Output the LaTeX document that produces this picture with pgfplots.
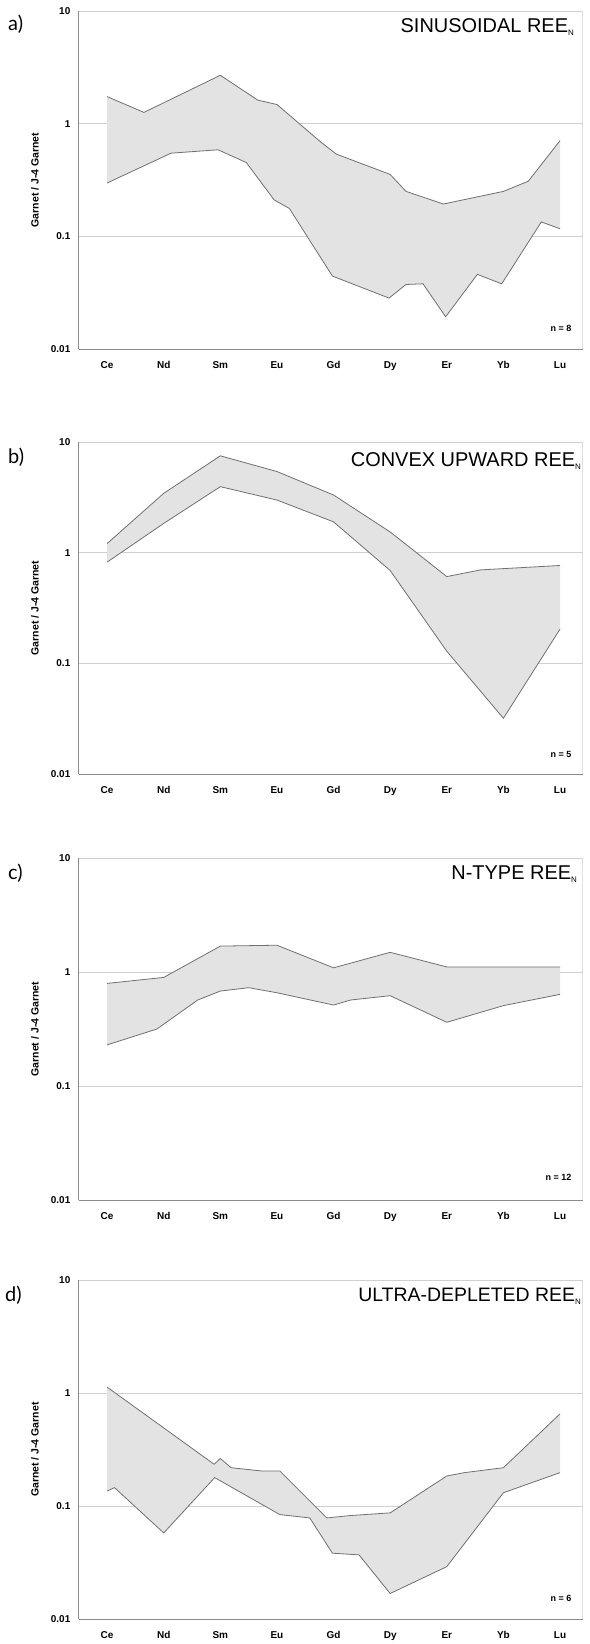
\documentclass[border=0pt]{standalone}
\usepackage{fontspec}
\setmainfont{Liberation Sans}
\newfontfamily\panelfont{Lato}
\usepackage{pgfplots}
\usepackage{pgfplotstable}
\pgfplotsset{compat=1.18}

\definecolor{envfill}{HTML}{E3E3E3}
\definecolor{envline}{HTML}{707070}
\definecolor{gridc}{HTML}{D0D0D0}
\definecolor{axisc}{HTML}{8C8C8C}

% envelopes: upper (max, left to right) and lower (min, right to left)
\pgfplotstableread{
x y
0 1.74
0.65 1.26
2 2.69
2.66 1.62
3 1.48
3.78 0.684
4.05 0.537
5 0.355
5.28 0.251
5.94 0.194
7 0.251
7.44 0.309
8 0.708
}\hiA
\pgfplotstableread{
x y
8 0.117
7.67 0.1346
6.97 0.038
6.54 0.0461
5.98 0.0194
5.58 0.038
5.28 0.0375
4.98 0.0284
3.98 0.0445
3.22 0.177
2.95 0.211
2.46 0.452
1.96 0.587
1.13 0.548
0 0.298
}\loA
\pgfplotstableread{
x y
0 1.21
1 3.44
2 7.5
3 5.41
4 3.32
5 1.54
6 0.609
6.6 0.70
8 0.767
}\hiB
\pgfplotstableread{
x y
8 0.204
7 0.032
6 0.129
5 0.691
4 1.90
3 2.99
2 3.95
1 1.84
0 0.822
}\loB
\pgfplotstableread{
x y
0 0.796
1 0.898
2 1.69
3 1.72
4 1.09
5 1.49
6 1.11
7 1.11
8 1.11
}\hiC
\pgfplotstableread{
x y
8 0.638
7 0.508
6 0.363
5 0.621
4.3 0.569
4 0.514
3 0.659
2.5 0.730
2 0.682
1.6 0.569
0.88 0.317
0 0.230
}\loC
\pgfplotstableread{
x y
0 1.13
1.89 0.235
2 0.264
2.19 0.219
2.72 0.205
3.05 0.205
3.88 0.0787
4.29 0.0826
5 0.0873
6 0.185
6.31 0.198
7 0.219
8 0.655
}\hiD
\pgfplotstableread{
x y
8 0.198
7 0.1315
6 0.0292
5 0.0169
4.45 0.0371
3.98 0.0384
3.58 0.0787
3.05 0.0843
1.9 0.179
1 0.058
0.13 0.146
0 0.136
}\loD

% closed outlines for the shaded bands
\pgfplotstablevertcat{\polyA}{\hiA}\pgfplotstablevertcat{\polyA}{\loA}
\pgfplotstablevertcat{\polyB}{\hiB}\pgfplotstablevertcat{\polyB}{\loB}
\pgfplotstablevertcat{\polyC}{\hiC}\pgfplotstablevertcat{\polyC}{\loC}
\pgfplotstablevertcat{\polyD}{\hiD}\pgfplotstablevertcat{\polyD}{\loD}

\pgfplotsset{
  reeaxis/.style={
    scale only axis, width=505pt,
    ymin=0.01, ymax=10,
    xmin=-0.5, xmax=8.4,
    xtick={0,...,8},
    xticklabels={\textbf{Ce},\textbf{Nd},\textbf{Sm},\textbf{Eu},\textbf{Gd},\textbf{Dy},\textbf{Er},\textbf{Yb},\textbf{Lu}},
    ytick={0.01,0.1,1,10},
    yticklabels={\textbf{0.01},\textbf{0.1},\textbf{1},\textbf{10}},
    yminorticks=false,
    ymajorgrids, grid style={gridc, line width=0.9pt},
    axis x line*=bottom, axis y line*=left,
    axis line style={axisc, line width=1.3pt},
    major tick length=0pt,
    tick label style={font=\fontsize{10}{10}\selectfont},
    xticklabel style={yshift=-9pt},
    yticklabel style={xshift=-5pt},
    ylabel={\textbf{Garnet / J-4 Garnet}},
    every axis y label/.style={at={(axis description cs:-0.087,0.5)}, rotate=90, anchor=center, font=\fontsize{10.5}{10.5}\selectfont},
  },
  envl/.style={envline, line width=0.8pt},
}

\begin{document}
\begin{tikzpicture}
\path (-79pt,11pt) rectangle (512pt,-1633pt);

% a) sinusoidal
\begin{semilogyaxis}[reeaxis, name=pa, height=339pt, at={(0pt,0pt)}, anchor=north west]
\addplot[fill=envfill, draw=none] table {\polyA} -- cycle;
\addplot[envl] table {\hiA};
\addplot[envl] table {\loA};
\draw[gridc, line width=0.9pt] (rel axis cs:0,1) -- (rel axis cs:1,1) -- (rel axis cs:1,0);
\node[anchor=north east, inner sep=0pt, font=\fontsize{20}{20}\selectfont] at (rel axis cs:0.984,0.979) {SINUSOIDAL REE\textsubscript{\fontsize{8}{8}\selectfont N}};
\node[anchor=east, inner sep=0pt, font=\bfseries\fontsize{9}{9}\selectfont] at (rel axis cs:0.978,0.062) {n = 8};
\end{semilogyaxis}
\node[anchor=west, inner sep=0pt, font=\panelfont\fontsize{20}{20}\selectfont] at ([xshift=-71pt, yshift=-13pt]pa.north west) {a)};

% b) convex upward
\begin{semilogyaxis}[reeaxis, name=pb, height=333pt, at={(0pt,-432pt)}, anchor=north west]
\addplot[fill=envfill, draw=none] table {\polyB} -- cycle;
\addplot[envl] table {\hiB};
\addplot[envl] table {\loB};
\draw[gridc, line width=0.9pt] (rel axis cs:0,1) -- (rel axis cs:1,1) -- (rel axis cs:1,0);
\node[anchor=north east, inner sep=0pt, font=\fontsize{20}{20}\selectfont] at (rel axis cs:0.998,0.97) {CONVEX UPWARD REE\textsubscript{\fontsize{8}{8}\selectfont N}};
\node[anchor=east, inner sep=0pt, font=\bfseries\fontsize{9}{9}\selectfont] at (rel axis cs:0.978,0.06) {n = 5};
\end{semilogyaxis}
\node[anchor=west, inner sep=0pt, font=\panelfont\fontsize{20}{20}\selectfont] at ([xshift=-71pt, yshift=-15pt]pb.north west) {b)};

% c) N-type
\begin{semilogyaxis}[reeaxis, name=pc, height=343pt, at={(0pt,-849pt)}, anchor=north west]
\addplot[fill=envfill, draw=none] table {\polyC} -- cycle;
\addplot[envl] table {\hiC};
\addplot[envl] table {\loC};
\draw[gridc, line width=0.9pt] (rel axis cs:0,1) -- (rel axis cs:1,1) -- (rel axis cs:1,0);
\node[anchor=north east, inner sep=0pt, font=\fontsize{20}{20}\selectfont] at (rel axis cs:0.99,0.977) {N-TYPE REE\textsubscript{\fontsize{8}{8}\selectfont N}};
\node[anchor=east, inner sep=0pt, font=\bfseries\fontsize{9}{9}\selectfont] at (rel axis cs:0.978,0.066) {n = 12};
\end{semilogyaxis}
\node[anchor=west, inner sep=0pt, font=\panelfont\fontsize{20}{20}\selectfont] at ([xshift=-71pt, yshift=-15pt]pc.north west) {c)};

% d) ultra-depleted
\begin{semilogyaxis}[reeaxis, name=pd, height=340pt, at={(0pt,-1272pt)}, anchor=north west]
\addplot[fill=envfill, draw=none] table {\polyD} -- cycle;
\addplot[envl] table {\hiD};
\addplot[envl] table {\loD};
\draw[gridc, line width=0.9pt] (rel axis cs:0,1) -- (rel axis cs:1,1) -- (rel axis cs:1,0);
\node[anchor=north east, inner sep=0pt, font=\fontsize{19.5}{19.5}\selectfont] at (rel axis cs:0.998,0.976) {ULTRA-DEPLETED REE\textsubscript{\fontsize{8}{8}\selectfont N}};
\node[anchor=east, inner sep=0pt, font=\bfseries\fontsize{9}{9}\selectfont] at (rel axis cs:0.978,0.06) {n = 6};
\end{semilogyaxis}
\node[anchor=west, inner sep=0pt, font=\panelfont\fontsize{20}{20}\selectfont] at ([xshift=-74pt, yshift=-15pt]pd.north west) {d)};
\end{tikzpicture}
\end{document}
